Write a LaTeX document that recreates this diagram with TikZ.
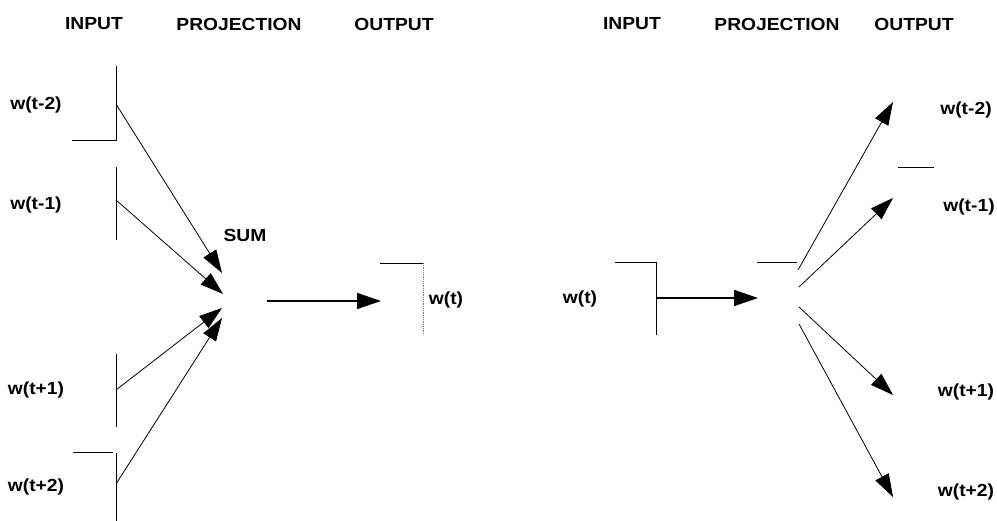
\documentclass[tikz,border=0pt]{standalone}
\usepackage{fontspec}
\setmainfont{Liberation Sans}[FakeStretch=1.1]
\usetikzlibrary{arrows.meta}
\begin{document}
\begin{tikzpicture}[x=1pt,y=-1pt,
  lbl/.style={font=\fontsize{17.5}{20}\selectfont\bfseries, inner sep=0pt, anchor=center},
  edge/.style={line width=0.9pt, black},
  conn/.style={line width=0.8pt, -{Triangle[length=23pt,width=15pt]}},
  hconn/.style={line width=1.5pt, -{Triangle[length=24pt,width=16pt]}}]
\useasboundingbox (0,0) rectangle (997,521);
% headers
\node[lbl] (hin1) at (94,24) {INPUT};
\node[lbl] (hpr1) at (239,24) {PROJECTION};
\node[lbl] (hout1) at (394,24) {OUTPUT};
\node[lbl] (hin2) at (632,24) {INPUT};
\node[lbl] (hpr2) at (777,24) {PROJECTION};
\node[lbl] (hout2) at (914,24) {OUTPUT};
% ---------- left (CBOW) ----------
\node[lbl] (l1) at (36,105) {w(t-2)};
\node[lbl] (l2) at (36,205) {w(t-1)};
\node[lbl] (l3) at (36,390) {w(t+1)};
\node[lbl] (l4) at (36,487) {w(t+2)};
\coordinate (i1) at (116,104);
\coordinate (i2) at (116,200);
\coordinate (i3) at (116,390);
\coordinate (i4) at (116,484);
\draw[edge] (116,66) -- (116,140) -- (72,140);
\draw[edge] (116,167) -- (116,240);
\draw[edge] (116,354) -- (116,427);
\draw[edge] (73,452) -- (113,452);
\draw[edge] (116,453) -- (116,521);
\coordinate (s1) at (222,273);
\coordinate (s2) at (223,294);
\coordinate (s3) at (222,308);
\coordinate (s4) at (222,318);
\draw[conn] (i1) -- (s1);
\draw[conn] (i2) -- (s2);
\draw[conn] (i3) -- (s3);
\draw[conn] (i4) -- (s4);
\node[lbl] (sum) at (245,235) {SUM};
\coordinate (p1) at (267,301);
\coordinate (o1) at (381,301);
\draw[hconn] (p1) -- (o1);
\draw[edge] (380,263) -- (423,263);
\draw[line width=0.8pt, densely dotted, gray] (423,263) -- (423,335);
\node[lbl] (wt1) at (446,300) {w(t)};
% ---------- right (Skip-gram) ----------
\node[lbl] (wt2) at (580,299) {w(t)};
\draw[edge] (615,262) -- (656,262);
\draw[edge] (656,262) -- (656,335);
\coordinate (i5) at (656,298);
\coordinate (p2) at (758,298);
\draw[hconn] (i5) -- (p2);
\draw[edge] (757,262) -- (797,262);
\coordinate (q1) at (798,270);
\coordinate (q2) at (799,287);
\coordinate (q3) at (799,307);
\coordinate (q4) at (799,324);
\coordinate (t1) at (893,102);
\coordinate (t2) at (893,198);
\coordinate (t3) at (893,395);
\coordinate (t4) at (893,497);
\draw[conn] (q1) -- (t1);
\draw[conn] (q2) -- (t2);
\draw[conn] (q3) -- (t3);
\draw[conn] (q4) -- (t4);
\draw[edge] (898,167) -- (934,167);
\node[lbl] (r1) at (966,110) {w(t-2)};
\node[lbl] (r2) at (969,207) {w(t-1)};
\node[lbl] (r3) at (966,392) {w(t+1)};
\node[lbl] (r4) at (966,492) {w(t+2)};
\end{tikzpicture}
\end{document}
